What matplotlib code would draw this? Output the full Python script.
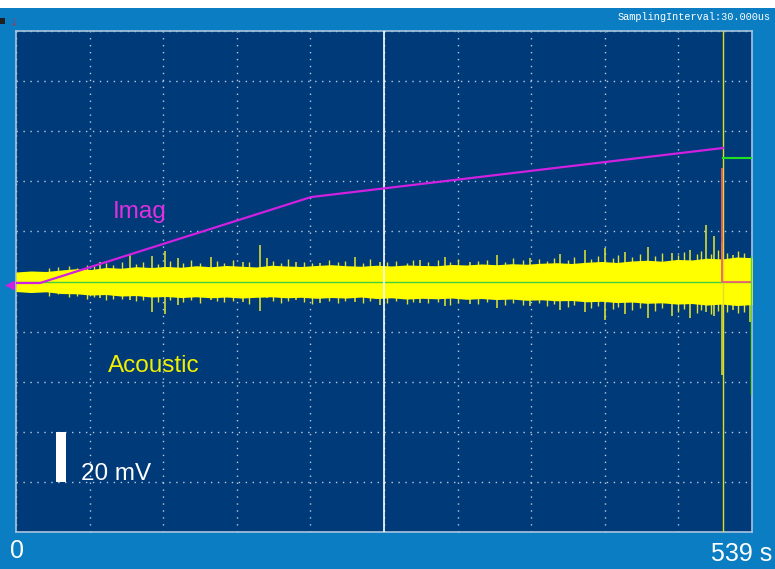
import numpy as np
import matplotlib.pyplot as plt
from matplotlib.patches import Rectangle

plt.rcParams['font.family'] = ['Liberation Sans', 'DejaVu Sans']

# time axis (s) and vertical scale (mV, 20 mV/div)
t_end = 539.0
y_lim = 100.0
scale_bar_mv = 20.0
cursor_t = 517.8

# magnetising current trace, drawn in mV-equivalent screen units
imag_t = [0.0, 17.6, 216.0, 517.8]
imag_v = [-0.6, -0.6, 33.7, 53.3]

# discharge after the cursor
drop_t = [517.4, 517.4, 539.0]
drop_v = [45.0, 0.0, 0.0]
green_t = [518.0, 539.0]
green_v = [49.2, 49.2]

# acoustic core envelope (mV), sampled evenly over the record
env_up = [3.8, 4.2, 4.0, 4.6, 5.1, 4.8, 5.6, 5.3, 5.9, 5.6,
          6.0, 5.7, 6.3, 5.9, 6.4, 6.1, 5.8, 6.5, 6.2, 6.0,
          6.4, 6.7, 6.3, 6.1, 6.5, 6.2, 6.6, 6.4, 6.3, 6.8,
          6.6, 7.0, 6.7, 7.1, 6.9, 7.3, 7.5, 7.2, 7.7, 8.0,
          7.6, 8.2, 8.5, 8.1, 8.8, 8.6, 9.3, 9.0, 9.8, 9.5]
env_lo = [-4.0, -4.4, -4.1, -4.8, -4.9, -5.4, -5.2, -5.8, -5.6, -6.2,
          -6.0, -6.4, -6.1, -6.5, -6.2, -6.6, -6.3, -6.1, -6.5, -6.3,
          -6.7, -6.4, -6.6, -6.2, -6.8, -6.5, -7.0, -6.7, -6.9, -6.6,
          -7.1, -6.8, -7.2, -7.0, -7.5, -7.3, -7.7, -7.6, -8.1, -7.9,
          -8.4, -8.2, -8.7, -8.5, -9.0, -8.8, -9.4, -9.0, -9.6, -9.2]

# short fuzz just outside the core band: time (s), top (mV), bottom (mV)
hair_t = [24, 31, 39, 45, 52, 57, 66, 71, 78, 88,
          93, 104, 113, 122, 128, 135, 147, 152, 159, 171,
          188, 194, 199, 211, 217, 229, 236, 241, 254, 259,
          272, 278, 286, 291, 302, 309, 318, 324, 338, 345,
          358, 364, 371, 383, 389, 394, 404, 409, 421, 426,
          437, 441, 451, 457, 468, 473, 485, 489, 499, 502,
          509, 514, 521, 529, 533]
hair_hi = [5.2, 5.8, 6.1, 5.5, 6.6, 6.0, 7.2, 6.5, 7.6, 6.9,
           7.8, 7.0, 8.1, 7.3, 8.4, 7.5, 8.0, 7.2, 8.6, 7.7,
           8.3, 7.4, 8.8, 7.9, 7.5, 8.7, 7.6, 8.2, 7.4, 8.9,
           7.8, 8.3, 7.5, 8.6, 7.9, 8.4, 7.6, 9.0, 8.1, 8.6,
           7.9, 9.2, 8.4, 8.8, 8.0, 9.4, 8.6, 9.8, 9.0, 10.2,
           9.3, 10.6, 9.7, 10.9, 10.0, 11.2, 10.4, 11.6, 10.8, 12.0,
           11.0, 12.4, 11.3, 12.0, 11.5]
hair_lo = [-5.6, -5.1, -6.3, -5.9, -6.8, -6.2, -7.5, -6.8, -7.1, -7.9,
           -7.2, -8.3, -7.5, -8.0, -7.4, -8.6, -7.7, -8.2, -7.6, -8.8,
           -7.9, -8.5, -7.6, -8.1, -8.9, -7.7, -8.4, -7.9, -8.7, -7.8,
           -8.6, -7.9, -9.1, -8.2, -8.7, -8.0, -9.3, -8.4, -8.9, -8.2,
           -9.5, -8.7, -9.2, -8.5, -9.8, -9.0, -10.1, -9.4, -10.5, -9.7,
           -10.8, -10.0, -11.2, -10.4, -11.6, -10.7, -12.0, -11.1, -12.5, -11.4,
           -12.8, -11.8, -12.2, -12.6, -12.0]

# individual acoustic bursts: time (s), peak (mV), trough (mV)
spike_t = [61.5, 83.5, 99.6, 109.1, 118.6, 142.8, 166.2, 178.7, 183.8, 205.0,
           222.6, 248.2, 266.6, 295.8, 314.2, 332.5, 352.2, 376.4, 398.4, 416.7,
           431.3, 446.0, 462.8, 480.4, 493.6, 505.3, 511.1, 517.0, 525.1, 537.5]
spike_hi = [7.8, 10.6, 10.2, 12.2, 9.4, 9.8, 7.8, 14.6, 9.4, 7.8,
            7.4, 9.8, 7.8, 8.6, 9.8, 7.8, 10.6, 9.4, 11.0, 12.6,
            13.4, 11.8, 13.8, 11.4, 12.6, 22.6, 18.2, 15.4, 10.6, 9.4]
spike_lo = [-6.6, -7.4, -12.2, -13.0, -9.4, -7.4, -8.2, -11.8, -6.6, -7.4,
            -8.6, -8.2, -9.4, -8.6, -9.8, -9.0, -10.6, -9.8, -11.4, -12.2,
            -15.4, -13.0, -14.6, -13.8, -14.6, -12.2, -13.8, -37.3, -11.4, -16.2]

outer_blue = '#0b7dc2'
screen_blue = '#003a78'
grid_col = '#b8cce0'

fig = plt.figure(figsize=(7.75, 5.69), dpi=100, facecolor=outer_blue)
fig.patches.append(Rectangle((0, 0.986), 1, 0.014, transform=fig.transFigure,
                             facecolor='white', edgecolor='none', zorder=0))
ax = fig.add_axes([0.0206, 0.065, 0.9497, 0.8805], facecolor=screen_blue)
ax.set_xlim(0, t_end)
ax.set_ylim(-y_lim, y_lim)

# 10 x 10 division graticule
ax.set_xticks(np.linspace(0, t_end, 11))
ax.set_yticks(np.arange(-y_lim, y_lim + 1, scale_bar_mv))
ax.grid(True, color=grid_col, linestyle=(0, (1, 4)), linewidth=1.0)
ax.tick_params(length=0, labelbottom=False, labelleft=False)
for s in ax.spines.values():
    s.set_color('#a8c4de')
    s.set_linewidth(1.2)

# acoustic signal
env_t = np.linspace(0, t_end, len(env_up))
ax.vlines(spike_t, spike_lo, spike_hi, color='#e8e830', linewidth=1.1, zorder=2)
ax.vlines(hair_t, hair_lo, hair_hi, color='#e0e030', linewidth=1.0, zorder=2)
ax.fill_between(env_t, env_lo, env_up, color='#ffff00', linewidth=0, zorder=3)
ax.plot([0, t_end], [0, 0], color='#40d040', linewidth=1.0, zorder=4)

# centre marker and cursor
ax.axvline(t_end / 2, color='white', linewidth=1.2, zorder=5)
ax.axvline(cursor_t, color='#e0e020', linewidth=1.0, zorder=5)

ax.plot(imag_t, imag_v, color='#d020e0', linewidth=1.6, zorder=6)
ax.plot(drop_t, drop_v, color='#f06070', linewidth=1.3, zorder=6)
ax.plot(green_t, green_v, color='#20e020', linewidth=1.5, zorder=6)
ax.plot([538.6, 538.6], [10, -45], color='#60d040', linewidth=1.0, zorder=6)

# vertical scale bar
ax.add_patch(Rectangle((29.3, -80), 7.3, scale_bar_mv, facecolor='white',
                       edgecolor='none', zorder=7))
ax.text(47.6, -79.2, '20 mV', color='white', fontsize=17.5, va='baseline', zorder=7)
ax.text(71, 27.7, 'Imag', color='#e030e0', fontsize=17.5, va='center', zorder=7)
ax.text(67.4, -33.7, 'Acoustic', color='#f0f000', fontsize=17.5, va='center', zorder=7)

# screen annotations
fig.text(0.013, 0.031, '0', color='white', fontsize=18, va='center', ha='left')
fig.text(0.996, 0.027, '539 s', color='white', fontsize=18, va='center', ha='right')
fig.text(0.994, 0.970, 'SamplingInterval:30.000us', color='white',
         fontsize=7.4, family='Liberation Mono', va='center', ha='right')
fig.text(0.018, 0.962, '\u2193', color='#e02020', fontsize=9, va='center', ha='center')
fig.patches.append(Rectangle((0.0, 0.958), 0.006, 0.01, transform=fig.transFigure,
                             facecolor='#202020', edgecolor='none'))
ax.plot([-4.5], [-1.5], marker='<', color='#d020e0', markersize=6, clip_on=False)

fig.savefig('out.png', dpi=100, facecolor=fig.get_facecolor())
